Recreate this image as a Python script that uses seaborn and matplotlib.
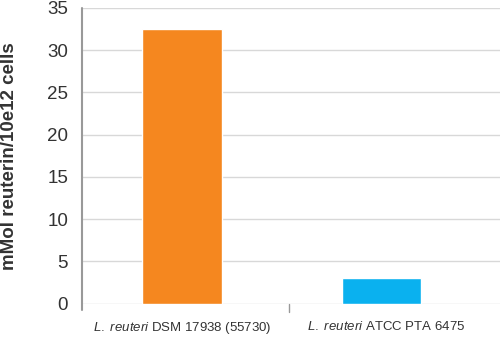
import matplotlib
matplotlib.use("Agg")
import matplotlib.pyplot as plt
import matplotlib.transforms as mtransforms
import seaborn as sns
import pandas as pd

categories = [r"$\mathit{L.\ reuteri}$ DSM 17938 (55730)", r"$\mathit{L.\ reuteri}$ ATCC PTA 6475"]
values = [32.5, 3.0]
colors = ["#F5871F", "#0AB1EF"]
yticks = [0, 5, 10, 15, 20, 25, 30, 35]

sns.set_theme(style="white")
plt.rcParams['font.family'] = ['Liberation Sans', 'DejaVu Sans']
plt.rcParams['mathtext.fontset'] = 'custom'
plt.rcParams['mathtext.rm'] = 'Liberation Sans'
plt.rcParams['mathtext.it'] = 'Liberation Sans:italic'

df = pd.DataFrame({"cat": categories, "val": values})

fig = plt.figure(figsize=(5.01, 3.38), dpi=100)
ax = fig.add_axes([82/501, 1-303.7/338, (500-82)/501, (303.7-8)/338])
sns.barplot(data=df, x="cat", y="val", hue="cat", palette=colors, width=0.40,
            legend=False, ax=ax, saturation=1)

ax.set_ylim(0, 35)
ax.set_xlim(-0.503, 1.595)
ax.set_yticks(yticks)
ax.set_yticklabels([str(t) for t in yticks], fontsize=13.5, color="#333333")
ax.tick_params(axis='y', length=0, pad=10)
ax.tick_params(axis='x', length=0, pad=12, labelsize=9.5, labelcolor="#333333")
ax.grid(axis='y', color="#d8d8d8", linewidth=1)
ax.set_axisbelow(True)
for s in ["top", "right", "bottom", "left"]:
    ax.spines[s].set_visible(False)
ax.plot([-0.503, -0.503], [-0.8, 35], color="#999999", lw=1.5, clip_on=False, zorder=5)
ax.plot([0.535, 0.535], [0, -1.0], color="#999999", lw=1, clip_on=False, zorder=5)
ax.set_xlabel("")
ax.set_ylabel("mMol reuterin/10e12 cells", fontsize=13.5, fontweight="bold", color="#333333", labelpad=21)

lbl = ax.get_xticklabels()[1]
lbl.set_transform(lbl.get_transform() + mtransforms.ScaledTranslation(5/100, 0, fig.dpi_scale_trans))

fig.savefig("out.png", dpi=100)
